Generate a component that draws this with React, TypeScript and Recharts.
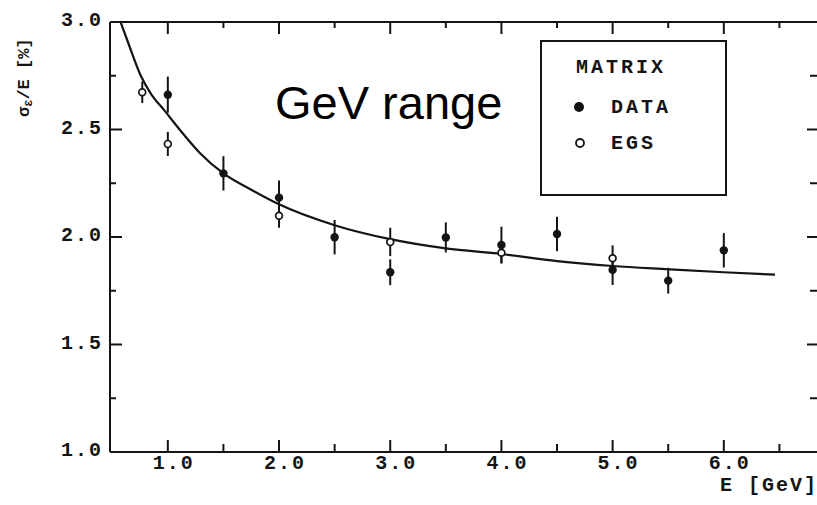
import React from 'react';
import { ComposedChart, Line, Scatter, XAxis, YAxis, ErrorBar, Legend, ReferenceLine } from 'recharts';

// ---------- data ----------
const X_MAJOR_TICKS = [1, 2, 3, 4, 5, 6];
const X_ALL_TICKS = [1, 1.5, 2, 2.5, 3, 3.5, 4, 4.5, 5, 5.5, 6, 6.5];
const Y_MAJOR_TICKS = [1, 1.5, 2, 2.5, 3];
const Y_ALL_TICKS = [1, 1.25, 1.5, 1.75, 2, 2.25, 2.5, 2.75, 3];

const dataEnergy = [1.0, 1.5, 2.0, 2.5, 3.0, 3.5, 4.0, 4.5, 5.0, 5.5, 6.0];
const dataRes = [2.662, 2.296, 2.183, 1.999, 1.836, 1.998, 1.963, 2.014, 1.847, 1.797, 1.938];
const dataErr = [0.084, 0.08, 0.08, 0.08, 0.06, 0.07, 0.085, 0.08, 0.07, 0.06, 0.08];

const egsEnergy = [0.77, 1.0, 2.0, 3.0, 4.0, 5.0];
const egsRes = [2.673, 2.433, 2.099, 1.977, 1.927, 1.901];
const egsErr = [0.05, 0.056, 0.056, 0.066, 0.05, 0.06];

const fitEnergy = [0.575, 0.646, 0.757, 0.85, 0.967, 1.13, 1.29, 1.5, 1.75, 2.0, 2.5, 3.0, 3.5, 4.0, 4.5, 5.0, 5.5, 6.0, 6.46];
const fitRes = [3.0, 2.9, 2.75, 2.665, 2.59, 2.485, 2.39, 2.296, 2.22, 2.152, 2.055, 1.99, 1.947, 1.921, 1.888, 1.865, 1.85, 1.836, 1.825];

const LEGEND_TITLE = 'MATRIX';
const SERIES_NAMES = ['DATA', 'EGS'];
const OPEN_SERIES = ['EGS'];

const dataPts = dataEnergy.map((x, i) => ({ x, y: dataRes[i], err: dataErr[i] }));
const egsPts = egsEnergy.map((x, i) => ({ x, y: egsRes[i], err: egsErr[i] }));
const fitPts = fitEnergy.map((x, i) => ({ x, y: fitRes[i] }));

// ---------- layout / styling ----------
const INK = '#141414';
const MONO = '"Liberation Mono", "DejaVu Sans Mono", monospace';
const X_DOMAIN: [number, number] = [0.48, 6.847];
const Y_DOMAIN: [number, number] = [1, 3];
const PLOT_W = 708;
const PLOT_H = 430;
const XU = (X_DOMAIN[1] - X_DOMAIN[0]) / PLOT_W; // data units per pixel
const YU = (Y_DOMAIN[1] - Y_DOMAIN[0]) / PLOT_H;

const labelFont = {
  fill: INK,
  fontSize: 20,
  fontFamily: MONO,
  fontWeight: 'bold' as const,
  letterSpacing: 2,
};

const fmt = (v: number) => v.toFixed(1);
const isMajorX = (v: number) => X_MAJOR_TICKS.includes(v);
const isMajorY = (v: number) => Y_MAJOR_TICKS.includes(v);

function BottomLabel(props: any) {
  const { x, y, payload } = props;
  if (!isMajorX(payload.value)) return <g />;
  return <text x={x + 6} y={y + 17} textAnchor="middle" style={labelFont} fill={INK}>{fmt(payload.value)}</text>;
}

function LeftLabel(props: any) {
  const { x, y, payload } = props;
  if (!isMajorY(payload.value)) return <g />;
  return <text x={x - 7} y={y + 4} textAnchor="end" style={labelFont} fill={INK}>{fmt(payload.value)}</text>;
}

// inward tick marks, as short segments in data space
type Seg = { key: string; segment: { x: number; y: number }[] };
const tickSegments: Seg[] = [];
X_ALL_TICKS.forEach((v) => {
  const major = isMajorX(v);
  const b = (major ? 12 : 8) * YU;
  const t = (major ? 12 : 6) * YU;
  tickSegments.push({ key: `b${v}`, segment: [{ x: v, y: Y_DOMAIN[0] }, { x: v, y: Y_DOMAIN[0] + b }] });
  tickSegments.push({ key: `t${v}`, segment: [{ x: v, y: Y_DOMAIN[1] }, { x: v, y: Y_DOMAIN[1] - t }] });
});
Y_ALL_TICKS.forEach((v) => {
  const major = isMajorY(v);
  const l = (major ? 12 : 6) * XU;
  const r = (major ? 11 : 8) * XU;
  tickSegments.push({ key: `l${v}`, segment: [{ x: X_DOMAIN[0], y: v }, { x: X_DOMAIN[0] + l, y: v }] });
  tickSegments.push({ key: `r${v}`, segment: [{ x: X_DOMAIN[1], y: v }, { x: X_DOMAIN[1] - r, y: v }] });
});

function FilledDot(props: any) {
  const { cx, cy } = props;
  if (cx == null || cy == null) return <g />;
  return <circle cx={cx} cy={cy} r={4.2} fill={INK} />;
}

function OpenDot(props: any) {
  const { cx, cy } = props;
  if (cx == null || cy == null) return <g />;
  return <circle cx={cx} cy={cy} r={3.4} fill="#fff" stroke={INK} strokeWidth={1.7} />;
}

function LegendBox(props: any) {
  const items = (props.payload || []).filter((p: any) => p.type !== 'none' && SERIES_NAMES.includes(p.value));
  const textStyle = { fontFamily: MONO, fontWeight: 'bold' as const, fontSize: 20, letterSpacing: 3 };
  return (
    <svg width={188} height={158} style={{ display: 'block' }}>
      <rect x={1} y={1} width={185} height={154} fill="#fff" stroke={INK} strokeWidth={2} />
      <text x={36} y={33} fill={INK} style={textStyle}>{LEGEND_TITLE}</text>
      {items.map((item: any, i: number) => {
        const cy = 67 + i * 36;
        const open = OPEN_SERIES.includes(item.value);
        return (
          <g key={item.value}>
            {open ? (
              <circle cx={40} cy={cy} r={4} fill="#fff" stroke={INK} strokeWidth={1.8} />
            ) : (
              <circle cx={39} cy={cy} r={5} fill={INK} />
            )}
            <text x={71} y={cy + 6} fill={INK} style={textStyle}>{item.value}</text>
          </g>
        );
      })}
    </svg>
  );
}

export default function App() {
  const frame = { stroke: INK, strokeWidth: 2 };
  return (
    <div style={{ position: 'absolute', left: 0, top: 0, width: 817, height: 505, overflow: 'hidden', background: '#fff' }}>
      <ComposedChart width={820} height={505} margin={{ top: 22, right: 2, bottom: 23, left: 0 }}>
        <XAxis xAxisId="main" type="number" dataKey="x" domain={X_DOMAIN} allowDataOverflow
          ticks={X_MAJOR_TICKS} interval={0} height={30}
          tickLine={false} tickSize={0} tickMargin={0} axisLine={false} tick={BottomLabel} />
        <YAxis yAxisId="main" type="number" domain={Y_DOMAIN} allowDataOverflow
          ticks={Y_MAJOR_TICKS} interval={0} width={110}
          tickLine={false} tickSize={0} tickMargin={0} axisLine={false} tick={LeftLabel} />

        <Legend layout="vertical" align="center" verticalAlign="middle" content={LegendBox}
          wrapperStyle={{ position: 'absolute', left: 540, top: 40, width: 188, height: 158 }} />

        <Line xAxisId="main" yAxisId="main" data={fitPts} dataKey="y" type="monotone"
          stroke={INK} strokeWidth={2.2} dot={false} activeDot={false} legendType="none" isAnimationActive={false} />
        <Scatter xAxisId="main" yAxisId="main" name="DATA" data={dataPts} dataKey="y" fill={INK}
          shape={FilledDot} isAnimationActive={false}>
          <ErrorBar dataKey="err" direction="y" width={0} stroke={INK} strokeWidth={2} isAnimationActive={false} />
        </Scatter>
        <Scatter xAxisId="main" yAxisId="main" name="EGS" data={egsPts} dataKey="y" fill="#fff"
          shape={OpenDot} isAnimationActive={false}>
          <ErrorBar dataKey="err" direction="y" width={0} stroke={INK} strokeWidth={2} isAnimationActive={false} />
        </Scatter>

        {/* frame */}
        <ReferenceLine xAxisId="main" yAxisId="main" y={Y_DOMAIN[0]} {...frame} ifOverflow="visible" />
        <ReferenceLine xAxisId="main" yAxisId="main" y={Y_DOMAIN[1]} {...frame} ifOverflow="visible" />
        <ReferenceLine xAxisId="main" yAxisId="main" x={X_DOMAIN[0]} {...frame} ifOverflow="visible" />
        <ReferenceLine xAxisId="main" yAxisId="main" x={X_DOMAIN[1]} {...frame} ifOverflow="visible" />
        {/* inward ticks */}
        {tickSegments.map((s) => (
          <ReferenceLine key={s.key} xAxisId="main" yAxisId="main" segment={s.segment} {...frame} ifOverflow="visible" />
        ))}
      </ComposedChart>
      <svg width={817} height={505} style={{ position: 'absolute', left: 0, top: 0, pointerEvents: 'none' }}>
        <text x={275} y={119} fontFamily='"Liberation Sans", Arial, sans-serif' fontSize={47} fill="#000">GeV range</text>
        <text x={720} y={491} fill={INK} fontFamily={MONO} fontWeight="bold" fontSize={20} letterSpacing={2}>E [GeV]</text>
        <text x={29} y={117} transform="rotate(-90 29 117)" fill={INK} fontFamily={MONO} fontWeight="bold" fontSize={17}>
          σ<tspan fontSize={12} dy={3}>ε</tspan><tspan dy={-3}>/E   [%]</tspan>
        </text>
      </svg>
    </div>
  );
}
